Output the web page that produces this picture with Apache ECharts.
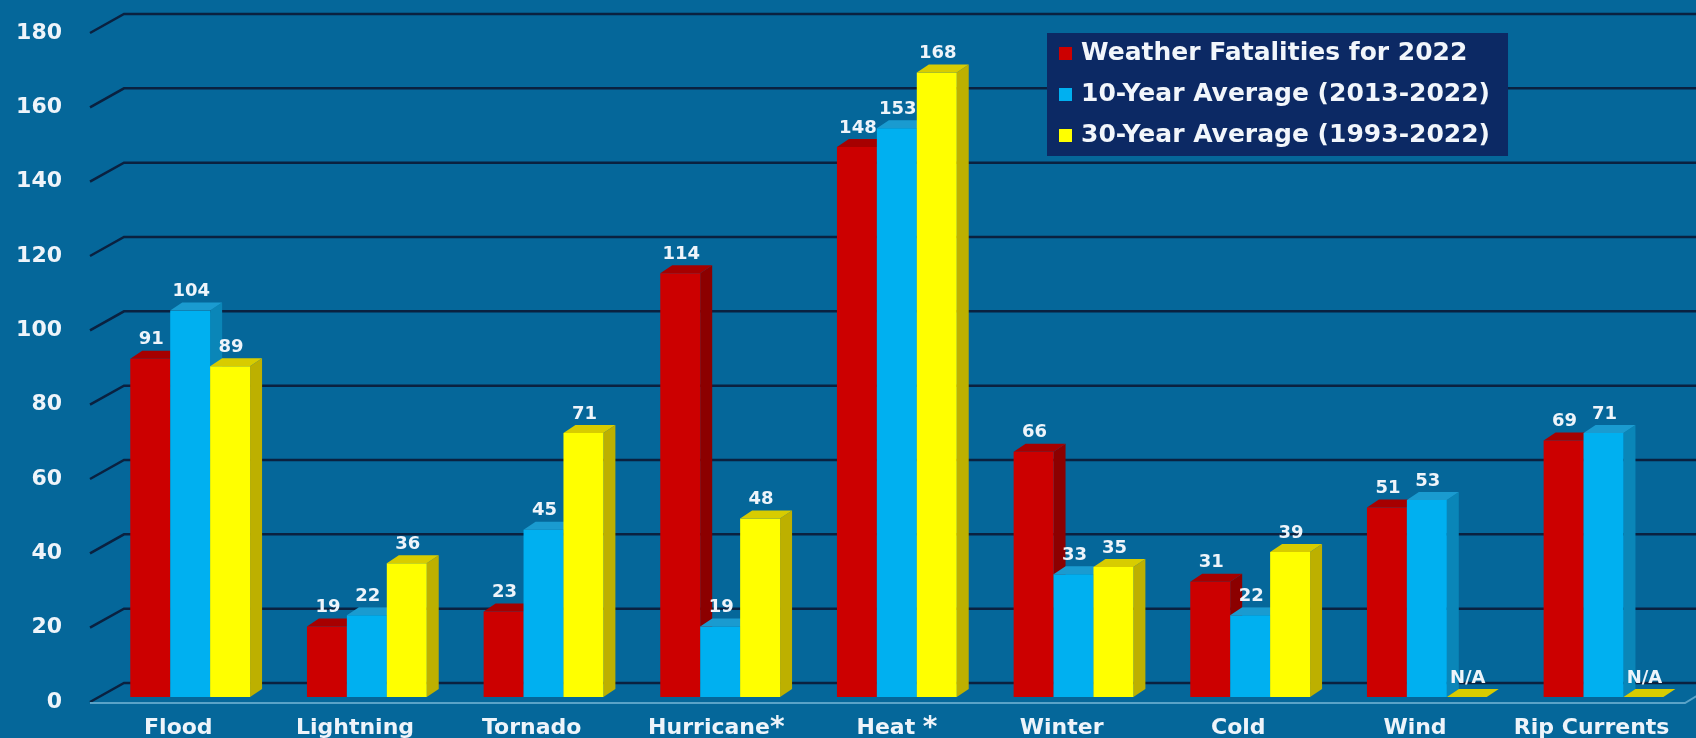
<!DOCTYPE html>
<html>
<head>
<meta charset="utf-8">
<script src="https://cdn.jsdelivr.net/npm/echarts@6/dist/echarts.min.js"></script>
<style>
  html, body { margin: 0; padding: 0; background: #05679a; }
  #chart { width: 1696px; height: 738px; }
</style>
</head>
<body>
<div id="chart"></div>
<script>
// Weather fatalities by hazard type
const categories = ['Flood', 'Lightning', 'Tornado', 'Hurricane*', 'Heat *', 'Winter', 'Cold', 'Wind', 'Rip Currents'];
const fatalities2022 = [91, 19, 23, 114, 148, 66, 31, 51, 69];
const average10Year = [104, 22, 45, 19, 153, 33, 22, 53, 71];
const average30Year = [89, 36, 71, 48, 168, 35, 39, null, null];   // null = not available
const yTicks = [0, 20, 40, 60, 80, 100, 120, 140, 160, 180];
const seriesNames = ['Weather Fatalities for 2022', '10-Year Average (2013-2022)', '30-Year Average (1993-2022)'];

const FONT = 'DejaVu Sans';
const TEXT = '#eef4fa';
const DX = 12, DY = -8;      // depth of each 3D bar
const LIFT = 5;              // bars stand slightly behind the front edge of the floor
const WALL_DX = 34, WALL_DY = -19;

const palettes = [
  { front: '#cc0000', side: '#8c0000', top: '#a60000' },
  { front: '#00b0f0', side: '#0a86b8', top: '#1a9bd0' },
  { front: '#ffff00', side: '#bdb000', top: '#d8cc00' }
];

function barSeries(name, values, slot) {
  const pal = palettes[slot];
  return {
    type: 'custom',
    name: name,
    z: 3 + slot,
    itemStyle: { color: pal.front },
    data: values.map((v, i) => [i, v === null ? 0 : v]),
    renderItem: function (params, api) {
      const idx = params.dataIndex;
      const v = values[idx];
      const band = api.size([1, 0])[0];
      const base = api.coord([idx, 0]);
      const yBase = base[1] - LIFT;
      const yTop = api.coord([idx, v === null ? 0 : v])[1] - LIFT;
      const w = band * 0.226;
      const x0 = base[0] - band * 0.272 + slot * w;
      const x1 = x0 + w;
      const children = [];
      if (v !== null) {
        children.push({
          type: 'polygon',
          shape: { points: [[x1, yBase], [x1 + DX, yBase + DY], [x1 + DX, yTop + DY], [x1, yTop]] },
          style: { fill: pal.side }
        });
        children.push({
          type: 'rect',
          shape: { x: x0, y: yTop, width: w, height: yBase - yTop },
          style: { fill: pal.front }
        });
      }
      children.push({
        type: 'polygon',
        shape: { points: [[x0, yTop], [x1, yTop], [x1 + DX, yTop + DY], [x0 + DX, yTop + DY]] },
        style: { fill: pal.top }
      });
      children.push({
        type: 'text',
        z2: 10,
        style: {
          text: v === null ? 'N/A' : String(v),
          x: (x0 + x1) / 2 + 1,
          y: yTop - 19,
          align: 'center',
          verticalAlign: 'middle',
          font: 'bold 18px "DejaVu Sans"',
          fill: TEXT
        }
      });
      return { type: 'group', children: children };
    }
  };
}

// back wall gridlines with their diagonal connectors, plus the floor's front edge
const wallSeries = {
  type: 'custom',
  silent: true,
  z: 1,
  data: yTicks.map(t => [0, t]),
  renderItem: function (params, api) {
    const t = yTicks[params.dataIndex];
    const y = api.coord([0, t])[1];
    const cs = params.coordSys;
    const xL = cs.x;
    const right = api.getWidth();
    const children = [{
      type: 'polyline',
      shape: { points: [[xL, y], [xL + WALL_DX, y + WALL_DY], [right, y + WALL_DY]] },
      style: { stroke: '#0a2140', lineWidth: 2.5, fill: null }
    }];
    if (t === 0) {
      children.push({
        type: 'polyline',
        shape: { points: [[xL, y + 1], [cs.x + cs.width + 5, y + 1], [cs.x + cs.width + 5 + 20, y + 1 - 12]] },
        style: { stroke: '#5aa3c8', lineWidth: 2, fill: null }
      });
    }
    return { type: 'group', children: children };
  }
};

const chart = echarts.init(document.getElementById('chart'));
chart.setOption({
  backgroundColor: '#05679a',
  animation: false,
  grid: { left: 90, right: 16, top: 33, bottom: 36, containLabel: false, outerBoundsMode: 'none' },
  legend: {
    data: seriesNames,
    orient: 'vertical',
    left: 1047,
    top: 33,
    backgroundColor: '#0c2964',
    padding: [8, 18, 8, 12],
    itemGap: 16,
    itemWidth: 13,
    itemHeight: 13,
    icon: 'rect',
    selectedMode: false,
    textStyle: { color: '#f2f6fb', fontFamily: FONT, fontWeight: 'bold', fontSize: 25, padding: [0, 0, 0, 4] }
  },
  xAxis: {
    type: 'category',
    data: categories,
    axisLine: { show: false },
    axisTick: { show: false },
    splitLine: { show: false },
    axisLabel: {
      interval: 0,
      margin: 13,
      color: TEXT,
      fontFamily: FONT,
      fontWeight: 'bold',
      fontSize: 22,
      lineHeight: 26,
      formatter: function (v) {
        if (v.indexOf('*') < 0) return v;
        const pad = v.indexOf(' *') >= 0 ? '{padB|}' : '{padA|}';
        return pad + v.replace('*', '{star|*}');
      },
      rich: {
        star: { fontSize: 28, fontWeight: 'bold', fontFamily: FONT, color: TEXT, lineHeight: 26, verticalAlign: 'top' },
        padA: { width: 16, lineHeight: 26 },
        padB: { width: 24, lineHeight: 26 }
      }
    }
  },
  yAxis: {
    type: 'value',
    min: 0,
    max: 180,
    interval: 20,
    axisLine: { show: false },
    axisTick: { show: false },
    splitLine: { show: false },
    axisLabel: { margin: 28, color: TEXT, fontFamily: FONT, fontWeight: 'bold', fontSize: 22 }
  },
  series: [
    wallSeries,
    barSeries(seriesNames[0], fatalities2022, 0),
    barSeries(seriesNames[1], average10Year, 1),
    barSeries(seriesNames[2], average30Year, 2)
  ]
});
</script>
</body>
</html>
